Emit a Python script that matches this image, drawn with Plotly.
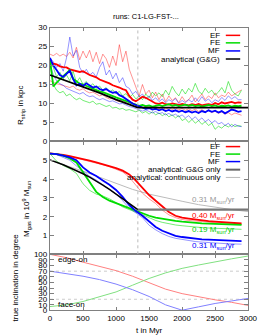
import plotly.graph_objects as go

# ---------------- data ----------------
t_sim = list(range(0, 2901, 50))       # 59 samples, Myr
t_mass = list(range(0, 2901, 100))     # 30 samples, Myr

# R_strip (kpc)
ef_r = [21.0,20.5,20.3,19.8,19.6,19.5,19.0,18.8,18.6,18.3,18.5,17.9,17.5,17.2,16.9,16.3,16.0,15.5,15.3,14.8,
        14.6,14.2,13.8,13.5,12.0,11.0,10.6,11.2,11.8,11.5,11.0,10.4,10.0,9.9,10.2,9.8,9.7,10.0,9.8,9.6,
        9.9,9.7,9.5,9.8,9.6,9.9,9.5,9.7,9.8,9.6,10.1,9.8,10.3,10.0,10.2,10.4,10.1,10.3,10.2]
ef_r_hi = [23.0,22.6,23.2,22.5,23.0,22.4,23.5,22.0,24.8,21.5,23.8,22.0,24.0,21.0,23.5,20.5,23.0,21.8,19.5,22.5,
           20.0,25.5,21.0,23.8,19.0,16.5,14.0,12.0,15.0,12.5,13.5,11.5,13.0,11.0,12.5,10.5,12.0,10.8,11.5,10.2,
           11.8,10.5,11.0,12.2,10.4,11.5,12.5,11.0,12.0,11.3,12.8,11.5,12.2,11.8,13.0,12.0,12.5,13.2,13.6]
ef_r_lo = [16.0,15.5,15.2,15.0,14.8,14.5,14.2,14.6,13.8,13.5,13.9,13.2,12.8,13.0,12.5,12.0,12.3,11.6,11.2,11.5,
           10.8,10.5,10.9,10.2,9.8,10.1,9.5,9.2,9.6,9.0,9.3,8.8,9.2,8.6,9.0,8.5,8.9,8.4,8.8,8.3,
           8.7,8.2,8.6,8.1,8.5,7.9,8.4,7.8,8.2,7.6,8.0,7.4,7.8,7.2,7.6,7.0,7.5,7.2,6.9]
fe_r = [21.5,14.5,15.5,16.5,17.2,18.0,18.8,16.5,15.8,15.2,15.0,14.6,14.2,14.0,13.6,13.2,13.0,12.6,12.3,12.0,
        11.6,11.3,11.0,10.6,10.2,9.9,9.6,9.4,9.6,9.3,9.5,9.2,9.4,9.6,9.3,9.5,9.8,9.4,9.6,9.3,
        9.5,9.7,9.4,9.6,9.3,9.5,9.2,9.4,9.6,9.3,9.5,9.2,9.4,9.3,9.5,9.2,9.4,9.3,9.4]
fe_r_hi = [21.0,19.5,17.0,18.2,16.5,17.5,16.0,18.5,15.5,16.8,15.0,15.8,14.5,15.2,14.0,14.6,13.5,14.2,13.0,13.6,
           12.5,13.2,12.0,12.6,11.5,12.4,11.2,12.0,11.0,12.5,11.5,13.0,12.0,12.8,11.8,13.5,12.2,14.5,13.0,12.0,
           13.8,12.5,14.0,13.0,15.3,13.2,12.5,14.0,12.8,13.5,12.2,13.0,14.2,12.8,15.8,13.5,12.5,12.0,13.5]
fe_r_lo = [21.0,15.0,13.5,12.8,13.2,12.0,12.5,11.6,11.0,11.4,10.8,10.5,10.2,10.6,9.8,10.0,9.5,9.2,9.5,8.8,
           9.0,8.5,8.7,8.2,8.4,8.0,7.8,8.2,7.5,7.9,7.2,7.8,7.0,7.5,6.8,7.3,6.5,7.0,6.2,6.8,
           5.5,6.0,5.0,5.8,4.8,5.5,4.5,5.2,4.2,4.8,3.2,4.0,3.5,4.3,3.8,4.5,3.9,4.2,4.0]
mf_r = [22.0,20.0,18.8,17.5,17.0,17.8,18.6,16.5,14.8,15.2,14.6,15.3,14.8,14.2,14.5,13.8,13.5,13.8,13.2,12.8,
        13.0,12.2,11.8,11.2,10.5,10.0,9.6,9.2,9.0,8.6,8.8,8.4,8.6,8.2,8.5,8.0,8.3,7.9,8.2,7.8,
        8.1,7.7,8.0,7.6,7.9,7.5,8.0,7.7,8.2,7.8,8.1,7.6,8.0,7.4,7.9,8.4,8.2,7.8,8.0]
mf_r_hi = [22.0,21.0,19.5,20.5,18.5,22.0,27.5,22.5,24.0,19.5,18.0,19.0,17.5,18.2,17.0,19.5,21.0,17.5,18.8,16.5,
           18.0,15.5,16.8,14.5,14.0,12.5,13.2,11.8,12.5,11.2,12.0,10.8,11.5,10.5,11.2,10.2,11.0,10.5,11.3,10.0,
           10.8,10.2,11.0,10.4,11.5,10.5,11.8,10.6,11.2,10.2,11.0,10.5,11.6,10.8,12.0,11.2,11.8,11.0,11.0]
mf_r_lo = [20.5,17.5,16.0,15.2,14.8,14.0,13.6,13.2,12.8,12.5,12.9,12.2,11.8,12.0,11.4,11.0,11.3,10.8,10.5,10.7,
           10.2,9.9,10.0,9.5,9.2,9.0,8.6,8.3,8.0,8.3,7.8,7.5,7.9,7.3,7.6,7.0,7.4,6.8,7.2,6.5,
           7.0,6.2,6.8,5.8,6.5,5.5,6.2,5.2,5.8,4.9,5.5,4.6,5.0,4.2,4.8,3.8,4.5,4.0,3.9]
t_gg = [0, 250, 500, 750, 1000, 1250, 1330, 3000]
gg_r = [17.5, 16.0, 14.4, 12.8, 11.0, 9.4, 8.9, 8.9]

# M_gas (1e9 Msun)
ef_m = [5.37,5.34,5.29,5.22,5.15,5.07,4.98,4.89,4.80,4.70,4.58,4.45,4.25,3.92,3.55,3.15,2.85,2.55,2.25,2.05,
        1.95,1.90,1.85,1.80,1.77,1.74,1.71,1.68,1.66,1.64]
ef_m_b = [5.37,5.33,5.28,5.20,5.12,5.03,4.94,4.85,4.76,4.66,4.53,4.38,4.10,3.70,3.25,2.95,2.70,2.35,2.10,1.95,
          1.85,1.80,1.76,1.72,1.70,1.68,1.66,1.64,1.62,1.60]
fe_m = [5.35,5.32,5.25,5.10,4.88,4.38,3.85,3.32,3.05,2.85,2.72,2.58,2.45,2.30,2.15,2.05,1.95,1.88,1.83,1.78,
        1.74,1.70,1.67,1.65,1.63,1.61,1.60,1.59,1.58,1.57]
fe_m_b = [5.35,4.95,4.72,4.55,4.30,3.75,3.40,3.20,3.10,2.95,2.75,2.52,2.38,2.22,2.10,1.95,1.80,1.70,1.62,1.56,
          1.52,1.48,1.45,1.42,1.40,1.38,1.37,1.35,1.34,1.33]
mf_m = [5.35,5.33,5.25,5.15,5.00,4.62,4.35,4.16,3.92,3.70,3.42,3.05,2.62,2.30,2.05,1.75,1.45,1.25,1.10,0.98,
        0.92,0.87,0.83,0.80,0.78,0.76,0.74,0.72,0.71,0.70]
mf_m_b = [5.35,5.30,5.15,5.00,4.70,4.40,4.15,3.95,3.70,3.45,3.20,2.85,2.45,2.20,1.95,1.55,1.30,1.10,0.95,0.85,
          0.78,0.73,0.68,0.65,0.62,0.60,0.58,0.56,0.55,0.54]
t_ggm = [0,100,200,300,400,500,600,700,800,900,1000,1100,1200,1300,1330]
gg_m = [5.02,4.90,4.76,4.60,4.45,4.28,4.10,3.90,3.68,3.45,3.20,2.95,2.70,2.45,2.38]
t_gg_flat = [1330, 3000]
gg_m_flat = [2.38, 2.38]
t_cont = [0,250,500,750,1000,1250,1500,1750,2000,2250,2500,2750,3000]
cont_m = [5.00,4.72,4.42,4.10,3.78,3.45,3.20,3.00,2.82,2.64,2.50,2.38,2.27]

# inclination (degree)
t_inc = [0,250,500,750,1000,1250,1500,1750,2000,2250,2500,2750,3000]
inc_ef = [100,94,86,79,71,61,49,38,30,24,19,14.5,9]
inc_fe = [7,10,16,24,33,45,57,67,75,81,87,92,97]
inc_mf = [70,66,61,55,47,37,25,10,0.5,6.5,12.5,17,21.5]

t_ticks = [0, 500, 1000, 1500, 2000, 2500, 3000]
r_ticks = [0, 5, 10, 15, 20, 25, 30]
m_ticks = [1, 2, 3, 4, 5]
i_ticks = list(range(0, 101, 10))
t_mark = 1330
i_marks = [20, 70]

# ---------------- style ----------------
W, H = 269, 336
def px_x(p): return p / W
def px_y(p): return 1 - p / H

FONT = "Liberation Sans, Arial, sans-serif"
RED, GREEN, BLUE = "#ff0000", "#00dd00", "#0000ff"
LRED, LGREEN, LBLUE = "rgba(255,0,0,0.42)", "rgba(0,220,0,0.55)", "rgba(0,0,255,0.42)"

fig = go.Figure()

def add(x, y, xa, ya, color, w, dash=None):
    fig.add_trace(go.Scatter(x=x, y=y, xaxis=xa, yaxis=ya, mode="lines",
                             line=dict(color=color, width=w, dash=dash),
                             showlegend=False, hoverinfo="skip"))

# top panel (x3/y3)
for s, c in [(ef_r_hi, LRED), (ef_r_lo, LRED), (fe_r_hi, LGREEN), (fe_r_lo, LGREEN),
             (mf_r_hi, LBLUE), (mf_r_lo, LBLUE)]:
    add(t_sim, s, "x3", "y3", c, 1)
add(t_sim, ef_r, "x3", "y3", RED, 1.8)
add(t_sim, fe_r, "x3", "y3", GREEN, 1.8)
add(t_sim, mf_r, "x3", "y3", BLUE, 1.8)
add(t_gg, gg_r, "x3", "y3", "#000000", 1.8)
add([t_mark, t_mark], [0, 30], "x3", "y3", "#bbbbbb", 1, "dot")

# middle panel (x2/y2)
add([t_mark, t_mark], [0, 6], "x2", "y2", "#bbbbbb", 1, "dot")
add(t_cont, cont_m, "x2", "y2", "#bbbbbb", 1)
add(t_mass, ef_m_b, "x2", "y2", LRED, 1)
add(t_mass, fe_m_b, "x2", "y2", LGREEN, 1)
add(t_mass, mf_m_b, "x2", "y2", LBLUE, 1)
add(t_mass, ef_m, "x2", "y2", RED, 1.8)
add(t_mass, fe_m, "x2", "y2", GREEN, 1.8)
add(t_mass, mf_m, "x2", "y2", BLUE, 1.8)
add(t_ggm, gg_m, "x2", "y2", "#000000", 1.5)
add(t_gg_flat, gg_m_flat, "x2", "y2", "#777777", 2.2)

# bottom panel (x/y)
for v in i_marks:
    add([0, 3000], [v, v], "x", "y", "#cccccc", 1, "dot")
add(t_inc, inc_ef, "x", "y", "#ff8080", 1)
add(t_inc, inc_fe, "x", "y", "#80e080", 1)
add(t_inc, inc_mf, "x", "y", "#8080ff", 1)

xdom = [px_x(41.7), px_x(248.3)]
axis_common = dict(showline=True, linecolor="#808080", linewidth=1.3, mirror="allticks",
                   ticks="inside", ticklen=3.5, tickcolor="#808080", showgrid=False,
                   zeroline=False, tickfont=dict(family=FONT, size=8, color="#000"))

fig.update_layout(
    width=W, height=H, margin=dict(l=0, r=0, t=0, b=0),
    paper_bgcolor="white", plot_bgcolor="white", showlegend=False,
    font=dict(family=FONT, size=8, color="#000"),
    xaxis=dict(domain=xdom, anchor="y", range=[0, 3000], tickvals=t_ticks, **axis_common),
    xaxis2=dict(domain=xdom, anchor="y2", range=[0, 3000], tickvals=t_ticks,
                showticklabels=False, matches="x", **axis_common),
    xaxis3=dict(domain=xdom, anchor="y3", range=[0, 3000], tickvals=t_ticks,
                showticklabels=False, matches="x", **axis_common),
    yaxis=dict(domain=[px_y(306.7), px_y(249)], anchor="x", range=[0, 100],
               tickvals=i_ticks, **axis_common),
    yaxis2=dict(domain=[px_y(249), px_y(133)], anchor="x2", range=[0, 6],
                tickvals=m_ticks, **axis_common),
    yaxis3=dict(domain=[px_y(133), px_y(16)], anchor="x3", range=[0, 30],
                tickvals=r_ticks, **axis_common),
)

ann = []
def text(x, y, s, xanchor="center", color="#000", size=8, angle=0):
    ann.append(dict(x=px_x(x), y=px_y(y), xref="paper", yref="paper", text=s,
                    showarrow=False, xanchor=xanchor, yanchor="middle", textangle=angle,
                    font=dict(family=FONT, size=size, color=color)))

text(142, 5, "runs: C1-LG-FST-...", size=7.5)
text(145, 327.5, "t in Myr")
text(12, 96, "R<sub>strip</sub> in kpc", angle=-90)
text(17, 202, "M<sub>gas</sub> in 10<sup>9</sup> M<sub>sun</sub>", angle=-90)
text(6, 273, "true inclination in degree", angle=-90)

shapes = []
def sample(y, color, w):
    shapes.append(dict(type="line", xref="paper", yref="paper", x0=px_x(225), x1=px_x(240),
                       y0=px_y(y), y1=px_y(y), line=dict(color=color, width=w)))

for y, s, c, w in [(24, "EF", RED, 1.5), (31.7, "FE", GREEN, 1.5), (40, "MF", BLUE, 1.5),
                   (48.3, "analytical (G&G)", "#000000", 1.5)]:
    text(221, y, s, xanchor="right")
    sample(y, c, w)
for y, s, c, w in [(138.3, "EF", RED, 1.5), (146, "FE", GREEN, 1.5), (153.7, "MF", BLUE, 1.5),
                   (162, "analytical: G&G only", "#666666", 2), (170, "analytical: continuous only", "#bbbbbb", 1)]:
    text(221, y, s, xanchor="right")
    sample(y, c, w)

rate = "M<sub>sun</sub>/yr"
text(237, 193, "0.31 " + rate, xanchor="right", color="#999999")
text(237, 209.5, "0.40 " + rate, xanchor="right", color=RED)
text(237, 224.5, "0.19 " + rate, xanchor="right", color="#00cc00")
text(237, 240, "0.31 " + rate, xanchor="right", color=BLUE)
text(48, 254.5, "edge-on", xanchor="left")
text(48, 301, "face-on", xanchor="left")

fig.update_layout(annotations=ann, shapes=shapes)
fig.write_html("out.html")
